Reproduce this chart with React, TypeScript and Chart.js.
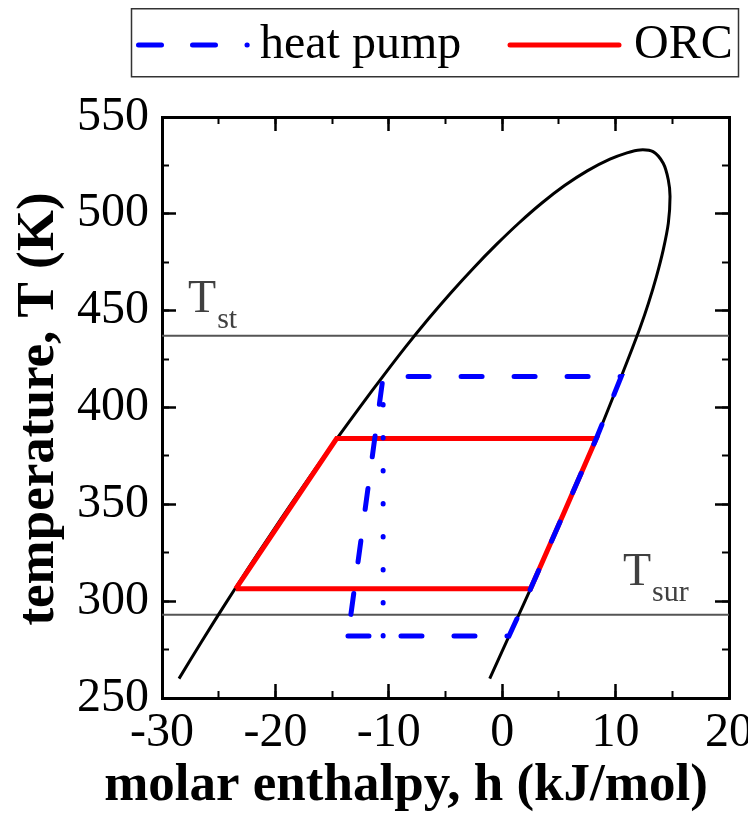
import React, { useEffect, useRef } from 'react';
import { Chart, registerables } from 'chart.js';

Chart.register(...registerables);

const FONT = "'Liberation Serif', 'Times New Roman', Times, serif";

// Saturation dome (h in kJ/mol, T in K)
const domeH = [-28.5, -26.5, -24.5, -22.5, -20.5, -18.5, -16.5, -14.5, -12.5, -10.5, -8.5, -6.5, -4.5, -2.5, -0.5, 1.5, 3.5, 5.5, 7.5, 9.5, 11.0, 12.15, 13.3, 14.2, 14.65, 14.8, 14.65, 14.2, 13.6, 12.9, 12.15, 11.5, 10.5, 8.3, 5.4, 2.5, 1.5, 0.6, -1.1];
const domeT = [260, 279.2, 297.8, 316.0, 333.8, 351.2, 368.2, 384.6, 400.6, 416.2, 431.4, 445.8, 459.4, 472.2, 484.2, 495.4, 505.6, 514.6, 522.2, 528.2, 531.5, 533, 532.1, 526.1, 517.5, 508.9, 495.2, 481.4, 467.6, 453.9, 441, 431, 416, 384, 345, 306.4, 293.5, 282, 260];

// ORC cycle
const orcH = [-23.5, 2.5, 5.4, 8.3, -14.6, -23.5];
const orcT = [306.4, 306.4, 345, 384, 384, 306.4];

// Heat pump cycle
const hpH = [-13.6, 0.6, 1.5, 2.5, 5.4, 8.3, 10.5, -10.5, -13.6];
const hpT = [282, 282, 293.5, 306.4, 345, 384, 416, 416, 282];
const hpVertH = [-10.5, -10.5];
const hpVertT = [282, 416];

// Reference temperatures
const refLineH = [-30, 20];
const tStT = [437, 437];
const tSurT = [293, 293];

const xMin = -30, xMax = 20, xMajor = 10, xMinor = 5;
const yMin = 250, yMax = 550, yMajor = 50, yMinor = 25;

const xTitle = 'molar enthalpy, h (kJ/mol)';
const yTitle = 'temperature, T (K)';
const hpLabel = 'heat pump';
const orcLabel = 'ORC';

const pts = (xs: number[], ys: number[]) => xs.map((x, i) => ({ x, y: ys[i] }));

const overlay = {
  id: 'overlay',
  afterDraw(chart: any) {
    const ctx = chart.ctx as CanvasRenderingContext2D;
    const xs = chart.scales.x;
    const ys = chart.scales.y;
    ctx.save();
    // axis titles
    ctx.fillStyle = '#000';
    ctx.font = `bold 53px ${FONT}`;
    ctx.textAlign = 'center';
    ctx.textBaseline = 'alphabetic';
    ctx.fillText(xTitle, 398, 792);
    ctx.save();
    ctx.translate(45, 401);
    ctx.rotate(-Math.PI / 2);
    ctx.fillText(yTitle, 0, 0);
    ctx.restore();

    // T labels
    ctx.fillStyle = '#404040';
    ctx.textAlign = 'left';
    const drawSub = (h: number, t: number, main: string, sub: string) => {
      const px = xs.getPixelForValue(h);
      const py = ys.getPixelForValue(t);
      ctx.font = `46px ${FONT}`;
      ctx.fillText(main, px, py);
      const w = ctx.measureText(main).width;
      ctx.font = `30px ${FONT}`;
      ctx.fillText(sub, px + w + 1, py + 16);
    };
    drawSub(-27.7, 449.4, 'T', 'st');
    drawSub(10.65, 308.5, 'T', 'sur');

    // legend
    ctx.strokeStyle = '#333';
    ctx.lineWidth = 1.5;
    ctx.strokeRect(123.5, 0.75, 607, 68);
    const ly = 37;
    ctx.strokeStyle = '#0000ff';
    ctx.lineWidth = 5;
    ctx.lineCap = 'round';
    ctx.beginPath();
    ctx.moveTo(130.5, ly); ctx.lineTo(153.5, ly);
    ctx.moveTo(184.5, ly); ctx.lineTo(207.5, ly);
    ctx.moveTo(239, ly); ctx.lineTo(239.2, ly);
    ctx.stroke();
    ctx.strokeStyle = '#ff0000';
    ctx.beginPath();
    ctx.moveTo(502, ly); ctx.lineTo(611, ly);
    ctx.stroke();
    ctx.fillStyle = '#000';
    ctx.font = `48px ${FONT}`;
    ctx.textBaseline = 'alphabetic';
    ctx.fillText(hpLabel, 252, 50);
    ctx.fillText(orcLabel, 626, 50);
    ctx.restore();
  },
};

const majorGrid = { display: true, drawOnChartArea: false, drawTicks: true, tickLength: -14, tickWidth: 2.5, tickColor: '#000' };
const minorGrid = { display: true, drawOnChartArea: false, drawTicks: true, tickLength: -7, tickWidth: 2, tickColor: '#000' };
const frameBorder = { display: true, width: 3, color: '#000' };
const zeroH = (s: any) => { s.height = 0; s.paddingLeft = 0; s.paddingRight = 0; };
const zeroW = (s: any) => { s.width = 0; s.paddingTop = 0; s.paddingBottom = 0; };

export default function App() {
  const ref = useRef<HTMLCanvasElement>(null);
  useEffect(() => {
    const canvas = ref.current!;
    const chart = new Chart(canvas, {
      type: 'scatter',
      data: {
        datasets: [
          { label: hpLabel, data: pts(hpH, hpT), showLine: true, borderColor: '#0000ff', borderWidth: 5, borderDash: [21, 32], borderCapStyle: 'round', borderJoinStyle: 'miter', pointRadius: 0, tension: 0, order: 0 },
          { label: hpLabel + ' (isenthalpic)', data: pts(hpVertH, hpVertT), showLine: true, borderColor: '#0000ff', borderWidth: 5, borderDash: [0.5, 32.5], borderCapStyle: 'round', pointRadius: 0, tension: 0, order: 0 },
          { label: orcLabel, data: pts(orcH, orcT), showLine: true, borderColor: '#ff0000', borderWidth: 5, borderJoinStyle: 'miter', pointRadius: 0, tension: 0, order: 1 },
          { label: 'saturation', data: pts(domeH, domeT), showLine: true, borderColor: '#000', borderWidth: 3, pointRadius: 0, tension: 0.3, order: 2 },
          { label: 'T_st', data: pts(refLineH, tStT), showLine: true, borderColor: '#555', borderWidth: 2, pointRadius: 0, order: 3 },
          { label: 'T_sur', data: pts(refLineH, tSurT), showLine: true, borderColor: '#555', borderWidth: 2, pointRadius: 0, order: 3 },
        ] as any,
      },
      options: {
        responsive: false,
        animation: false,
        devicePixelRatio: 1,
        events: [],
        layout: { padding: { top: 109, right: 19, left: 0, bottom: 0 }, autoPadding: false },
        plugins: { legend: { display: false }, tooltip: { enabled: false } },
        scales: {
          x: {
            type: 'linear', position: 'bottom', min: xMin, max: xMax, weight: 1,
            ticks: { stepSize: xMajor, color: '#000', padding: 21, maxRotation: 0, autoSkip: false, font: { family: FONT, size: 48, lineHeight: 1.2 } },
            grid: majorGrid, border: frameBorder,
            afterFit: (s: any) => { s.height = 116; s.paddingLeft = 0; s.paddingRight = 0; },
          },
          xMinorB: {
            type: 'linear', position: 'bottom', min: xMin, max: xMax, weight: 0,
            ticks: { display: false, stepSize: xMinor }, grid: minorGrid, border: { display: false }, afterFit: zeroH,
          },
          xTop: {
            type: 'linear', position: 'top', min: xMin, max: xMax, weight: 1,
            ticks: { display: false, stepSize: xMajor }, grid: majorGrid, border: frameBorder, afterFit: zeroH,
          },
          xMinorT: {
            type: 'linear', position: 'top', min: xMin, max: xMax, weight: 0,
            ticks: { display: false, stepSize: xMinor }, grid: minorGrid, border: { display: false }, afterFit: zeroH,
          },
          y: {
            type: 'linear', position: 'left', min: yMin, max: yMax, weight: 1,
            ticks: { stepSize: yMajor, color: '#000', padding: 27, font: { family: FONT, size: 48, lineHeight: 1.2 } },
            grid: majorGrid, border: frameBorder,
            afterFit: (s: any) => { s.width = 154; s.paddingTop = 0; s.paddingBottom = 0; },
          },
          yMinorL: {
            type: 'linear', position: 'left', min: yMin, max: yMax, weight: 0,
            ticks: { display: false, stepSize: yMinor }, grid: minorGrid, border: { display: false }, afterFit: zeroW,
          },
          yRight: {
            type: 'linear', position: 'right', min: yMin, max: yMax, weight: 1,
            ticks: { display: false, stepSize: yMajor }, grid: majorGrid, border: frameBorder, afterFit: zeroW,
          },
          yMinorR: {
            type: 'linear', position: 'right', min: yMin, max: yMax, weight: 0,
            ticks: { display: false, stepSize: yMinor }, grid: minorGrid, border: { display: false }, afterFit: zeroW,
          },
        } as any,
      },
      plugins: [overlay],
    } as any);
    return () => chart.destroy();
  }, []);
  return (
    <div style={{ width: 740, height: 806 }}>
      <canvas ref={ref} width={740} height={806} style={{ display: 'block', width: 740, height: 806 }} />
    </div>
  );
}
